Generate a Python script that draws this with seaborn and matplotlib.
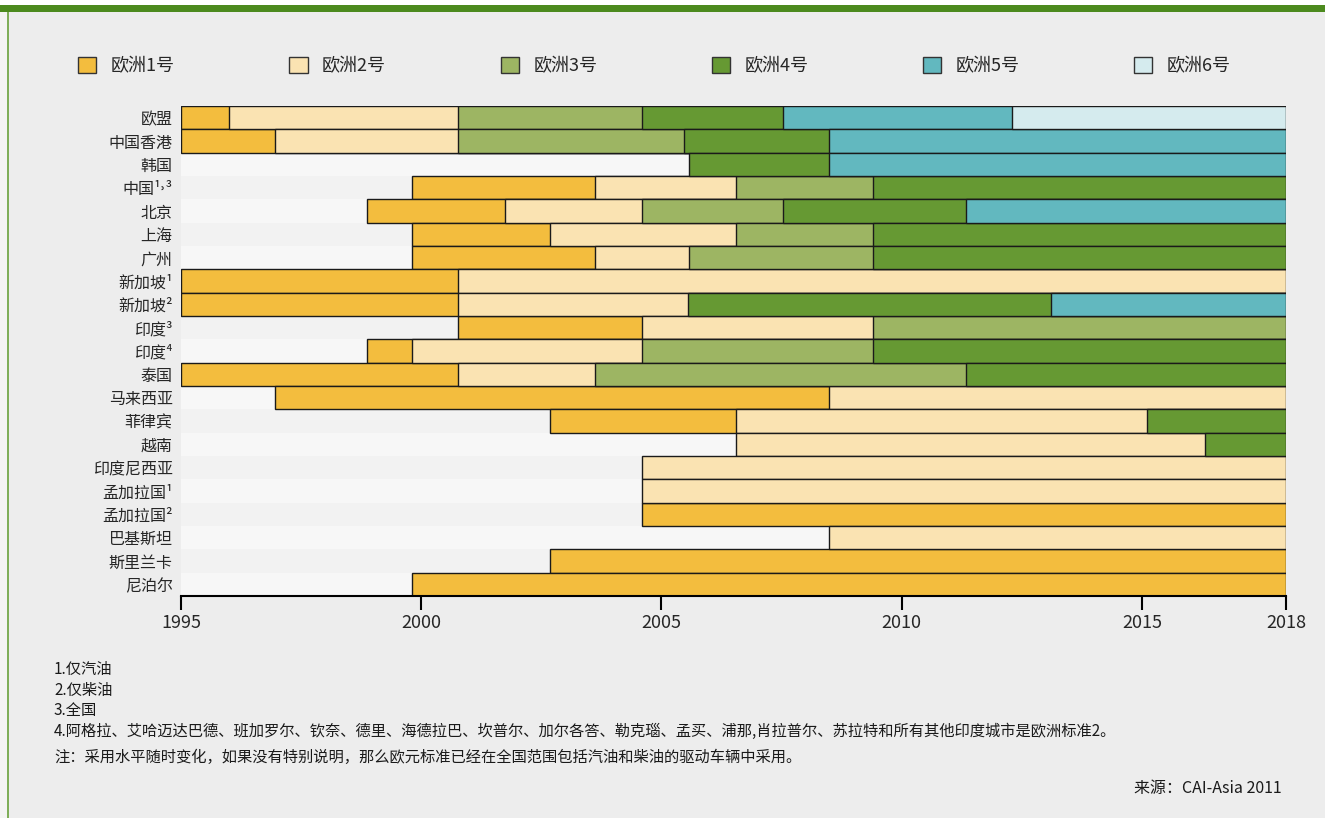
import numpy as np
import pandas as pd
import matplotlib.pyplot as plt
import matplotlib.patches as mpatches
import seaborn as sns

# 数据：各国/地区开始采用各级欧洲标准的时间（NaN 表示未采用）
countries = ['欧盟', '中国香港', '韩国', '中国¹˒³', '北京', '上海', '广州',
             '新加坡¹', '新加坡²', '印度³', '印度⁴', '泰国', '马来西亚', '菲律宾',
             '越南', '印度尼西亚', '孟加拉国¹', '孟加拉国²', '巴基斯坦', '斯里兰卡', '尼泊尔']
nan = np.nan
euro1 = [1995, 1995, nan, 1999.81, 1998.87, 1999.81, 1999.81, 1995, 1995, 2000.77, 1998.87,
         1995, 1996.96, 2002.68, nan, nan, nan, 2004.6, nan, 2002.68, 1999.81]
euro2 = [1996.0, 1996.96, nan, 2003.62, 2001.74, 2002.68, 2003.62, 2000.77, 2000.77, 2004.6, 1999.81,
         2000.77, 2008.49, 2006.55, 2006.55, 2004.6, 2004.6, nan, 2008.49, nan, nan]
euro3 = [2000.77, 2000.77, nan, 2006.55, 2004.6, 2006.55, 2005.57, nan, nan, 2009.4, 2004.6,
         2003.62, nan, nan, nan, nan, nan, nan, nan, nan, nan]
euro4 = [2004.6, 2005.47, 2005.57, 2009.4, 2007.53, 2009.4, 2009.4, nan, 2005.55, nan, 2009.4,
         2011.34, nan, 2015.11, 2016.32, nan, nan, nan, nan, nan, nan]
euro5 = [2007.53, 2008.49, 2008.49, nan, 2011.34, nan, nan, nan, 2013.11, nan, nan,
         nan, nan, nan, nan, nan, nan, nan, nan, nan, nan]
euro6 = [2012.3, nan, nan, nan, nan, nan, nan, nan, nan, nan, nan,
         nan, nan, nan, nan, nan, nan, nan, nan, nan, nan]

levels = ['欧洲1号', '欧洲2号', '欧洲3号', '欧洲4号', '欧洲5号', '欧洲6号']
colors = ['#f3bd3e', '#fae3b2', '#9db563', '#669933', '#62b8bf', '#d5ebee']
year_ticks = [1995, 2000, 2005, 2010, 2015, 2018]
start_year, end_year = 1995, 2018

notes = ['1.仅汽油', '2.仅柴油', '3.全国',
         '4.阿格拉、艾哈迈达巴德、班加罗尔、钦奈、德里、海德拉巴、坎普尔、加尔各答、勒克瑙、孟买、浦那,肖拉普尔、苏拉特和所有其他印度城市是欧洲标准2。',
         '注：采用水平随时变化，如果没有特别说明，那么欧元标准已经在全国范围包括汽油和柴油的驱动车辆中采用。']
source = '来源：CAI-Asia 2011'

sns.set_theme(style='white')
plt.rcParams['font.family'] = ['Noto Sans CJK SC', 'DejaVu Sans']

fig = plt.figure(figsize=(13.25, 8.18), dpi=100, facecolor='#ededed')
ax = fig.add_axes([181 / 1325, 1 - 596 / 818, 1105 / 1325, 490 / 818])
ax.set_facecolor('#ededed')

# 行背景条纹
for i in range(len(countries)):
    ax.axhspan(i - 0.5, i + 0.5, color='#f7f7f7' if i % 2 == 0 else '#f2f2f2', zorder=0, lw=0)

# x 轴用“距 2018 年的年数”，每一级从开始年份画到 2018，后一级覆盖前一级
df = pd.DataFrame({'country': countries, levels[0]: euro1, levels[1]: euro2, levels[2]: euro3,
                   levels[3]: euro4, levels[4]: euro5, levels[5]: euro6})
for lev, col in zip(levels, colors):
    d = df[['country', lev]].dropna()
    d = d.assign(span=end_year - d[lev])
    sns.barplot(data=d, x='span', y='country', order=countries, orient='h', color=col,
                width=1.0, edgecolor='#1a1a1a', linewidth=1.0, saturation=1, ax=ax, zorder=2)

ax.set_xlim(end_year - start_year, 0)
ax.set_ylim(len(countries) - 0.5, -0.5)
ax.set_xticks([end_year - y for y in year_ticks])
ax.set_xticklabels([str(y) for y in year_ticks], fontsize=13)
ax.set_xlabel('')
ax.set_ylabel('')
ax.tick_params(axis='x', bottom=True, direction='out', length=10, width=1.5, color='black', pad=3)
ax.tick_params(axis='y', left=False, length=0, labelsize=11.5, pad=6)
for s in ['top', 'right', 'left']:
    ax.spines[s].set_visible(False)
ax.spines['bottom'].set_color('black')
ax.spines['bottom'].set_linewidth(1.5)

# 图例
handles = [mpatches.Patch(facecolor=c, edgecolor='#333333', lw=1) for c in colors]
fig.legend(handles, levels, ncol=6, loc='center left', mode='expand',
           bbox_to_anchor=(62 / 1325, 1 - 66 / 818, 1185 / 1325, 0.0), frameon=False,
           fontsize=13, handlelength=1.0, handleheight=1.0, handletextpad=0.8)

# 注释
note_y = [669, 690, 711, 731, 757]
for t, ys in zip(notes, note_y):
    fig.text(54 / 1325, 1 - ys / 818, t, fontsize=11, va='center', ha='left', color='#1a1a1a')
fig.text(1282 / 1325, 1 - 788 / 818, source, fontsize=11.5, va='center', ha='right', color='#1a1a1a')

# 边框
fig.patches.append(mpatches.Rectangle((0, 1 - 12 / 818), 1, 7 / 818, transform=fig.transFigure,
                                      facecolor='#4c8a1e', edgecolor='none'))
fig.patches.append(mpatches.Rectangle((0, 1 - 5 / 818), 1, 5 / 818, transform=fig.transFigure,
                                      facecolor='white', edgecolor='none'))
fig.patches.append(mpatches.Rectangle((0, 0), 7 / 1325, 1 - 12 / 818, transform=fig.transFigure,
                                      facecolor='#f4f4f4', edgecolor='none'))
fig.patches.append(mpatches.Rectangle((7 / 1325, 0), 1.5 / 1325, 1 - 12 / 818, transform=fig.transFigure,
                                      facecolor='#7fae5a', edgecolor='none'))

fig.savefig('out.png', dpi=100, facecolor=fig.get_facecolor())
